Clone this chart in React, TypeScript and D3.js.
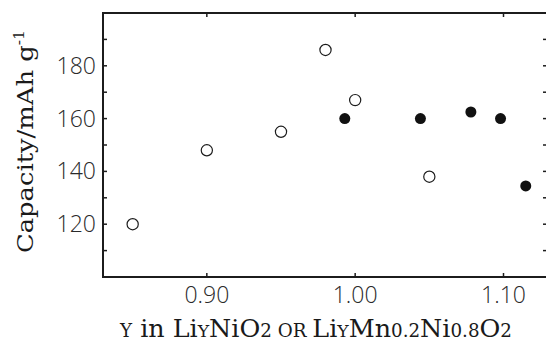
import React from "react";
import * as d3 from "d3";

// Li_y NiO2 (open circles)
const niY = [0.85, 0.90, 0.95, 0.98, 1.00, 1.05];
const niCapacity = [120, 148, 155, 186, 167, 138];

// Li_y Mn0.2 Ni0.8 O2 (filled circles)
const mnY = [0.993, 1.044, 1.078, 1.098, 1.115];
const mnCapacity = [160, 160, 162.5, 160, 134.5];

const xTicks = [0.9, 1.0, 1.1];
const yMajorTicks = [120, 140, 160, 180];
const yMinorTicks = [110, 130, 150, 170, 190];

const W = 546;
const H = 349;
const left = 103;
const top = 13;
const bottom = 277;
const right = 548;

const tickFont = "'Open Sans', 'Liberation Sans', Arial, sans-serif";
const titleFont = "'DejaVu Serif', 'Liberation Serif', serif";

export default function App() {
  const x = d3.scaleLinear().domain([0.83, 1.13]).range([left, right]);
  const y = d3.scaleLinear().domain([100, 200]).range([bottom, top]);
  const ink = "#1c1c1c";
  const allY = [...yMajorTicks, ...yMinorTicks];

  return (
    <svg
      width={W}
      height={H}
      style={{ position: "absolute", left: 0, top: 0, background: "#fff" }}
    >
      {/* frame */}
      <rect
        x={left}
        y={top}
        width={right - left}
        height={bottom - top}
        fill="none"
        stroke={ink}
        strokeWidth={2}
      />
      {/* x ticks, bottom and top, pointing inward */}
      {xTicks.map((t) => (
        <g key={"xt" + t}>
          <line x1={x(t)} x2={x(t)} y1={bottom} y2={bottom - 4} stroke={ink} strokeWidth={1.5} />
          <line x1={x(t)} x2={x(t)} y1={top} y2={top + 4} stroke={ink} strokeWidth={1.5} />
          <text
            x={x(t)}
            y={303}
            textAnchor="middle"
            fontFamily={tickFont}
            fontWeight={300}
            fontSize={23}
            fill="#2a2a2a"
          >
            {d3.format(".2f")(t)}
          </text>
        </g>
      ))}
      {/* y ticks, left and right, pointing inward */}
      {allY.map((t) => (
        <g key={"yt" + t}>
          <line x1={left} x2={left + 4} y1={y(t)} y2={y(t)} stroke={ink} strokeWidth={1.5} />
          <line x1={right - 5} x2={right - 1} y1={y(t)} y2={y(t)} stroke={ink} strokeWidth={1.5} />
        </g>
      ))}
      {yMajorTicks.map((t) => (
        <text
          key={"yl" + t}
          x={96}
          y={y(t) + 8}
          textAnchor="end"
          fontFamily={tickFont}
          fontWeight={300}
          fontSize={23}
          fill="#2a2a2a"
        >
          {t}
        </text>
      ))}
      {/* data */}
      {niY.map((v, i) => (
        <circle
          key={"ni" + i}
          cx={x(v)}
          cy={y(niCapacity[i])}
          r={5.6}
          fill="#fff"
          stroke={ink}
          strokeWidth={1.2}
        />
      ))}
      {mnY.map((v, i) => (
        <circle key={"mn" + i} cx={x(v)} cy={y(mnCapacity[i])} r={5.5} fill="#111" />
      ))}
      {/* axis titles */}
      <text
        transform={`translate(33, ${(30 + 253) / 2}) rotate(-90)`}
        textAnchor="middle"
        fontFamily={titleFont}
        fontSize={23}
        fill="#1a1a1a"
        textLength={223}
        lengthAdjust="spacingAndGlyphs"
      >
        Capacity/mAh g
        <tspan dy={-9} fontSize={14}>-1</tspan>
      </text>
      <text
        x={120}
        y={337}
        fontFamily={titleFont}
        fontSize={25}
        fill="#1a1a1a"
        textLength={392}
        lengthAdjust="spacingAndGlyphs"
      >
        <tspan fontSize={18}>Y</tspan>
        <tspan> in Li</tspan>
        <tspan fontSize={17}>Y</tspan>
        <tspan>NiO</tspan>
        <tspan fontSize={18}>2</tspan>
        <tspan fontSize={18}> OR </tspan>
        <tspan>Li</tspan>
        <tspan fontSize={17}>Y</tspan>
        <tspan>Mn</tspan>
        <tspan fontSize={18}>0.2</tspan>
        <tspan>Ni</tspan>
        <tspan fontSize={18}>0.8</tspan>
        <tspan>O</tspan>
        <tspan fontSize={18}>2</tspan>
      </text>
    </svg>
  );
}
